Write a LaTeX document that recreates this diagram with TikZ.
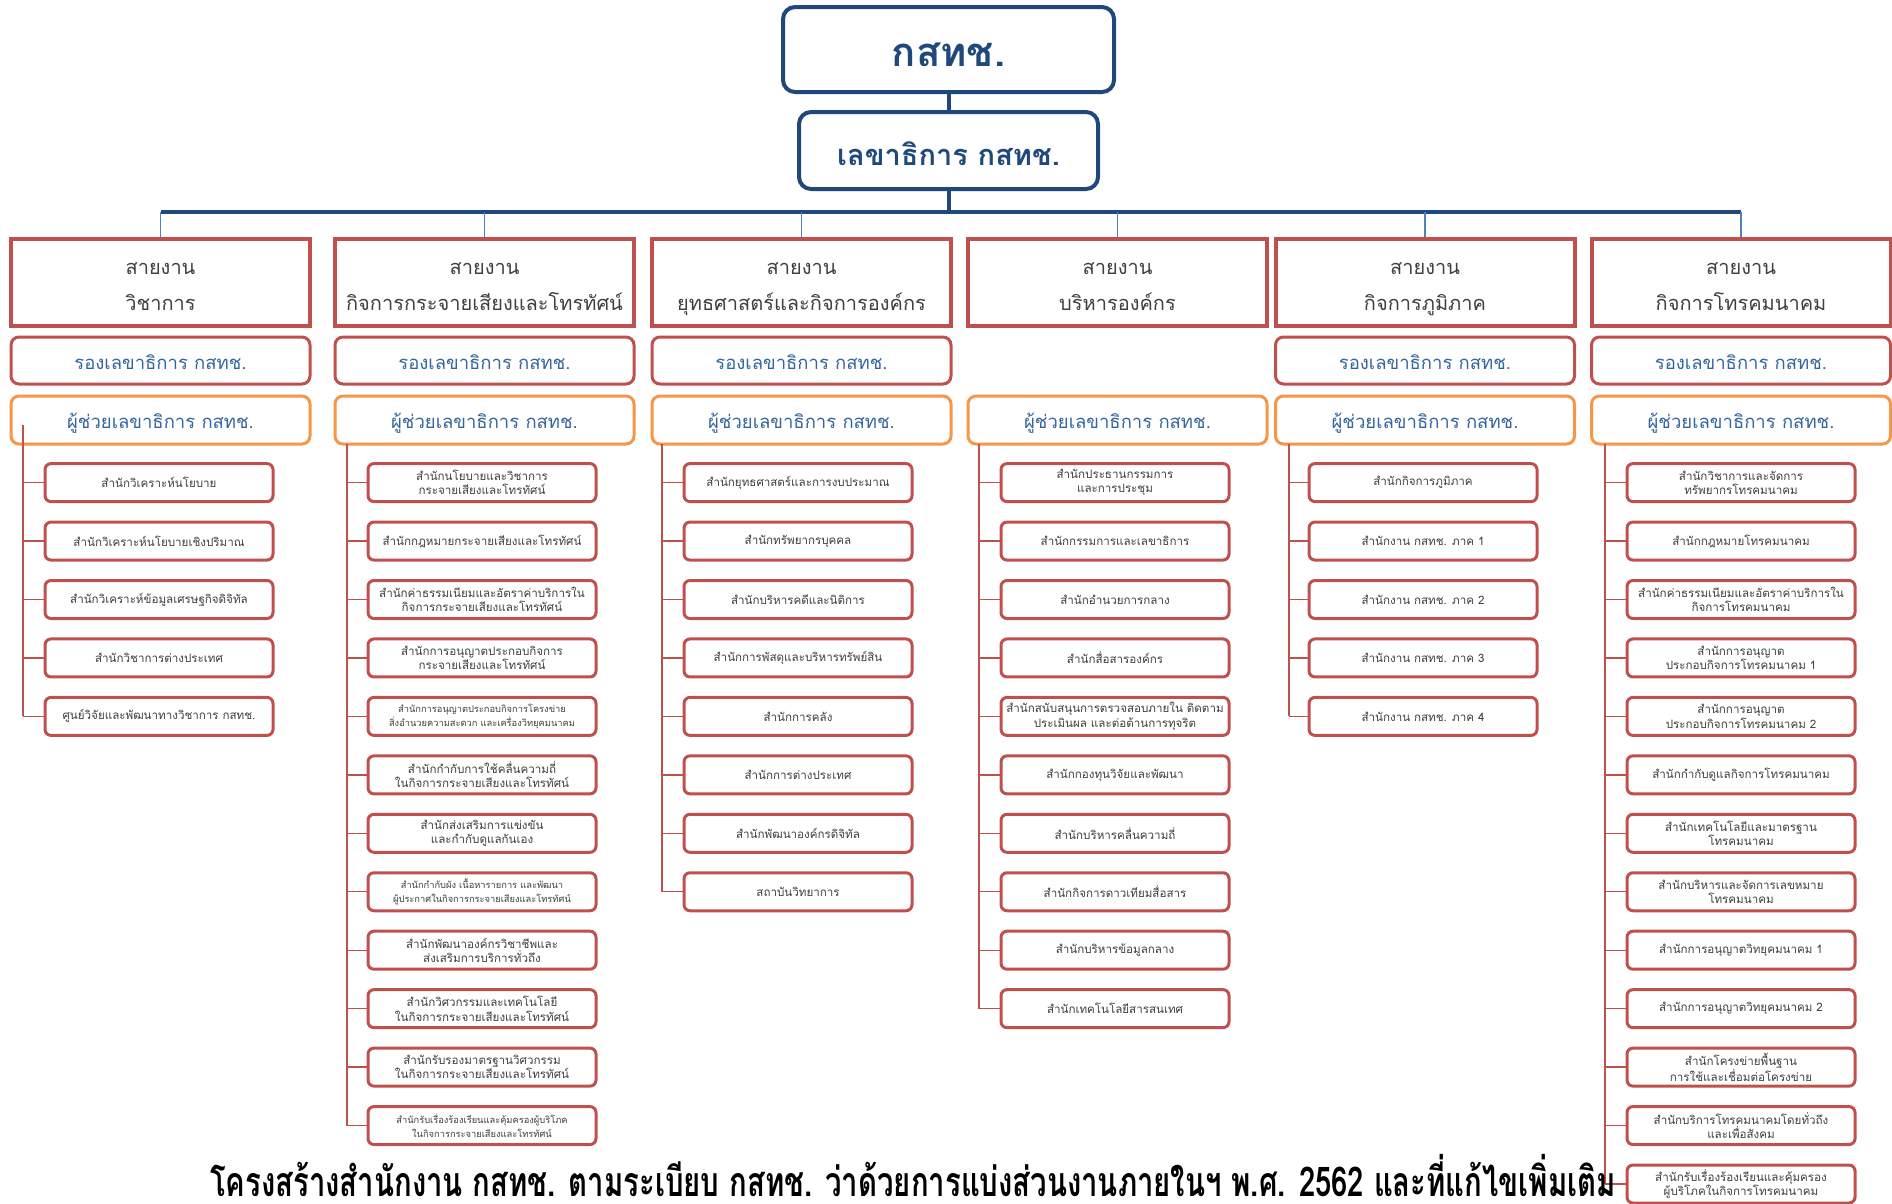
\documentclass[tikz,border=0pt]{standalone}
\usepackage{fontspec}
\setmainfont[Script=Thai]{Loma}
\definecolor{navy}{HTML}{1F497D}
\definecolor{bluetxt}{HTML}{35659F}
\definecolor{dropblue}{HTML}{4F81BD}
\definecolor{redc}{HTML}{C0504D}
\definecolor{orangec}{HTML}{F79646}
\definecolor{graytxt}{HTML}{404040}
\newcommand\smtxt{\fontsize{9.3}{12}\selectfont}
\newcommand\hstrut{\rule[-5.4pt]{0pt}{31.4pt}}
\tikzset{
  topbox/.style={draw=navy, line width=4pt, rounded corners=12pt, fill=white, text=navy, align=center},
  hdr/.style={draw=redc, line width=4pt, fill=white, minimum width=299pt, minimum height=87pt, align=center, text=graytxt, font=\fontsize{20}{36}\selectfont},
  rong/.style={draw=redc, line width=3pt, rounded corners=8pt, fill=white, minimum width=299pt, minimum height=47pt, text=bluetxt, font=\fontsize{18.5}{20}\selectfont, text height=21pt, text depth=3.5pt},
  chuay/.style={draw=orangec, line width=3pt, rounded corners=8pt, fill=white, minimum width=299pt, minimum height=48pt, text=bluetxt, font=\fontsize{18.5}{20}\selectfont, text height=21pt, text depth=3.5pt},
  unitbox/.style={draw=redc, line width=3pt, rounded corners=6pt, fill=white, minimum width=228pt, minimum height=38pt, inner sep=1pt, align=center, text=graytxt, font=\fontsize{11.6}{14.3}\selectfont},
  navyline/.style={draw=navy, line width=4pt},
  dropline/.style={draw=dropblue, line width=1.5pt},
  redline/.style={draw=redc, line width=1.3pt},
}
\begin{document}
\begin{tikzpicture}[x=1pt,y=-1pt]
\useasboundingbox[fill=white] (0,0) rectangle (1892,1203);

\node[topbox, minimum width=331pt, minimum height=85pt, inner sep=0pt, font=\bfseries\fontsize{40}{44}\selectfont, text height=40pt, text depth=5.8pt] (top) at (948.5,49.5) {กสทช.};
\node[topbox, minimum width=299pt, minimum height=77pt, inner sep=0pt, font=\bfseries\fontsize{29}{32}\selectfont, text height=36pt, text depth=5.5pt] (sec) at (948.5,150.5) {เลขาธิการ กสทช.};

\node[hdr] (h1) at (160.5,282.5) {\hstrut สายงาน\\\hstrut วิชาการ};
\node[hdr] (h2) at (484.5,282.5) {\hstrut สายงาน\\\hstrut กิจการกระจายเสียงและโทรทัศน์};
\node[hdr] (h3) at (801.5,282.5) {\hstrut สายงาน\\\hstrut ยุทธศาสตร์และกิจการองค์กร};
\node[hdr] (h4) at (1117.5,282.5) {\hstrut สายงาน\\\hstrut บริหารองค์กร};
\node[hdr] (h5) at (1425,282.5) {\hstrut สายงาน\\\hstrut กิจการภูมิภาค};
\node[hdr] (h6) at (1741,282.5) {\hstrut สายงาน\\\hstrut กิจการโทรคมนาคม};

\coordinate (busL) at (160.5,212);
\coordinate (busR) at (1741,212);
\draw[navyline] (top) -- (sec);
\draw[navyline] (sec.south) -- (sec.south |- busL);
\draw[navyline] (busL) -- (busR);
\foreach \h in {h1,h2,h3,h4,h5,h6}{\draw[dropline] (\h.north |- busL) -- (\h.north);}

\node[rong] (r1) at (160.5,360.5) {รองเลขาธิการ กสทช.};
\node[rong] (r2) at (484.5,360.5) {รองเลขาธิการ กสทช.};
\node[rong] (r3) at (801.5,360.5) {รองเลขาธิการ กสทช.};
\node[rong] (r5) at (1425,360.5) {รองเลขาธิการ กสทช.};
\node[rong] (r6) at (1741,360.5) {รองเลขาธิการ กสทช.};

\node[chuay] (a1) at (160.5,420) {ผู้ช่วยเลขาธิการ กสทช.};
\node[chuay] (a2) at (484.5,420) {ผู้ช่วยเลขาธิการ กสทช.};
\node[chuay] (a3) at (801.5,420) {ผู้ช่วยเลขาธิการ กสทช.};
\node[chuay] (a4) at (1117.5,420) {ผู้ช่วยเลขาธิการ กสทช.};
\node[chuay] (a5) at (1425,420) {ผู้ช่วยเลขาธิการ กสทช.};
\node[chuay] (a6) at (1741,420) {ผู้ช่วยเลขาธิการ กสทช.};

% column 1
\coordinate (l1) at (23,425);
\foreach \t [count=\i] in {
 {สำนักวิเคราะห์นโยบาย},
 {สำนักวิเคราะห์นโยบายเชิงปริมาณ},
 {สำนักวิเคราะห์ข้อมูลเศรษฐกิจดิจิทัล},
 {สำนักวิชาการต่างประเทศ},
 {ศูนย์วิจัยและพัฒนาทางวิชาการ กสทช.}}{
 \node[unitbox] (c1u\i) at (159,{482.6+(\i-1)*58.45}) {\t};
 \draw[redline] (l1 |- c1u\i.west) -- (c1u\i.west);
}
\draw[redline] (l1) -- (l1 |- c1u5.west);

% column 2
\coordinate (l2) at (347,444);
\foreach \t [count=\i] in {
 {สำนักนโยบายและวิชาการ\\กระจายเสียงและโทรทัศน์},
 {สำนักกฎหมายกระจายเสียงและโทรทัศน์},
 {สำนักค่าธรรมเนียมและอัตราค่าบริการใน\\กิจการกระจายเสียงและโทรทัศน์},
 {สำนักการอนุญาตประกอบกิจการ\\กระจายเสียงและโทรทัศน์},
 {\smtxt สำนักการอนุญาตประกอบกิจการโครงข่าย\\\smtxt สิ่งอำนวยความสะดวก และเครื่องวิทยุคมนาคม},
 {สำนักกำกับการใช้คลื่นความถี่\\ในกิจการกระจายเสียงและโทรทัศน์},
 {สำนักส่งเสริมการแข่งขัน\\และกำกับดูแลกันเอง},
 {\smtxt สำนักกำกับผัง เนื้อหารายการ และพัฒนา\\\smtxt ผู้ประกาศในกิจการกระจายเสียงและโทรทัศน์},
 {สำนักพัฒนาองค์กรวิชาชีพและ\\ส่งเสริมการบริการทั่วถึง},
 {สำนักวิศวกรรมและเทคโนโลยี\\ในกิจการกระจายเสียงและโทรทัศน์},
 {สำนักรับรองมาตรฐานวิศวกรรม\\ในกิจการกระจายเสียงและโทรทัศน์},
 {\smtxt สำนักรับเรื่องร้องเรียนและคุ้มครองผู้บริโภค\\\smtxt ในกิจการกระจายเสียงและโทรทัศน์}}{
 \node[unitbox] (c2u\i) at (482,{482.6+(\i-1)*58.45}) {\t};
 \draw[redline] (l2 |- c2u\i.west) -- (c2u\i.west);
}
\draw[redline] (l2) -- (l2 |- c2u12.west);

% column 3
\coordinate (l3) at (662,444);
\foreach \t [count=\i] in {
 {สำนักยุทธศาสตร์และการงบประมาณ},
 {สำนักทรัพยากรบุคคล},
 {สำนักบริหารคดีและนิติการ},
 {สำนักการพัสดุและบริหารทรัพย์สิน},
 {สำนักการคลัง},
 {สำนักการต่างประเทศ},
 {สำนักพัฒนาองค์กรดิจิทัล},
 {สถาบันวิทยาการ}}{
 \node[unitbox] (c3u\i) at (798,{482.6+(\i-1)*58.45}) {\t};
 \draw[redline] (l3 |- c3u\i.west) -- (c3u\i.west);
}
\draw[redline] (l3) -- (l3 |- c3u8.west);

% column 4
\coordinate (l4) at (979,444);
\foreach \t [count=\i] in {
 {สำนักประธานกรรมการ\\และการประชุม},
 {สำนักกรรมการและเลขาธิการ},
 {สำนักอำนวยการกลาง},
 {สำนักสื่อสารองค์กร},
 {สำนักสนับสนุนการตรวจสอบภายใน ติดตาม\\ประเมินผล และต่อต้านการทุจริต},
 {สำนักกองทุนวิจัยและพัฒนา},
 {สำนักบริหารคลื่นความถี่},
 {สำนักกิจการดาวเทียมสื่อสาร},
 {สำนักบริหารข้อมูลกลาง},
 {สำนักเทคโนโลยีสารสนเทศ}}{
 \node[unitbox] (c4u\i) at (1115,{482.6+(\i-1)*58.45}) {\t};
 \draw[redline] (l4 |- c4u\i.west) -- (c4u\i.west);
}
\draw[redline] (l4) -- (l4 |- c4u10.west);

% column 5
\coordinate (l5) at (1289,444);
\foreach \t [count=\i] in {
 {สำนักกิจการภูมิภาค},
 {สำนักงาน กสทช. ภาค 1},
 {สำนักงาน กสทช. ภาค 2},
 {สำนักงาน กสทช. ภาค 3},
 {สำนักงาน กสทช. ภาค 4}}{
 \node[unitbox] (c5u\i) at (1423,{482.6+(\i-1)*58.45}) {\t};
 \draw[redline] (l5 |- c5u\i.west) -- (c5u\i.west);
}
\draw[redline] (l5) -- (l5 |- c5u5.west);

% column 6
\coordinate (l6) at (1605,444);
\foreach \t [count=\i] in {
 {สำนักวิชาการและจัดการ\\ทรัพยากรโทรคมนาคม},
 {สำนักกฎหมายโทรคมนาคม},
 {สำนักค่าธรรมเนียมและอัตราค่าบริการใน\\กิจการโทรคมนาคม},
 {สำนักการอนุญาต\\ประกอบกิจการโทรคมนาคม 1},
 {สำนักการอนุญาต\\ประกอบกิจการโทรคมนาคม 2},
 {สำนักกำกับดูแลกิจการโทรคมนาคม},
 {สำนักเทคโนโลยีและมาตรฐาน\\โทรคมนาคม},
 {สำนักบริหารและจัดการเลขหมาย\\โทรคมนาคม},
 {สำนักการอนุญาตวิทยุคมนาคม 1},
 {สำนักการอนุญาตวิทยุคมนาคม 2},
 {สำนักโครงข่ายพื้นฐาน\\การใช้และเชื่อมต่อโครงข่าย},
 {สำนักบริการโทรคมนาคมโดยทั่วถึง\\และเพื่อสังคม},
 {สำนักรับเรื่องร้องเรียนและคุ้มครอง\\ผู้บริโภคในกิจการโทรคมนาคม}}{
 \node[unitbox] (c6u\i) at (1741,{482.6+(\i-1)*58.45}) {\t};
 \draw[redline] (l6 |- c6u\i.west) -- (c6u\i.west);
}
\draw[redline] (l6) -- (l6 |- c6u13.west);

\node[font=\bfseries\fontsize{29.3}{32}\selectfont, text=black, anchor=base, inner sep=0pt] (title) at (913,1196) {\scalebox{1}[1.4]{โครงสร้างสำนักงาน กสทช. ตามระเบียบ กสทช. ว่าด้วยการแบ่งส่วนงานภายในฯ พ.ศ. 2562 และที่แก้ไขเพิ่มเติม}};
\end{tikzpicture}
\end{document}
